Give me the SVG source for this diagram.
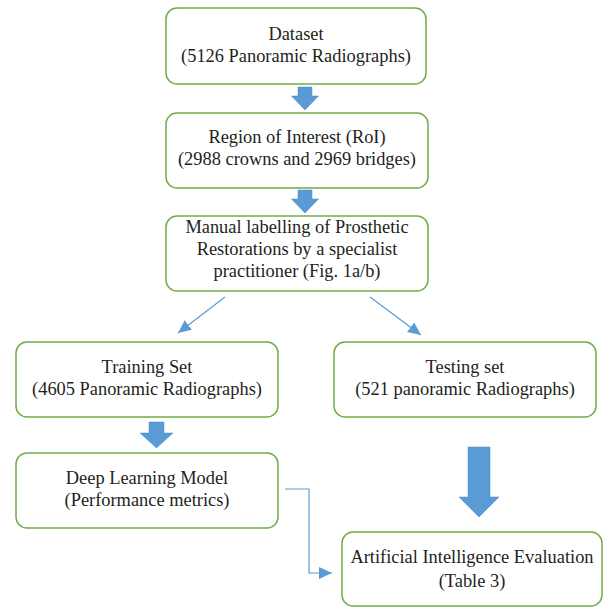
<svg xmlns="http://www.w3.org/2000/svg" width="605" height="607" viewBox="0 0 605 607">
<defs>
<style>
.box{fill:#fff;stroke:#70AD47;stroke-width:1.5}
.t{font-family:"Liberation Serif","Times New Roman",serif;font-size:18.4px;fill:#231F20;text-anchor:middle}
.fat{fill:#5B9BD5;stroke:#4A89C4;stroke-width:0.5}
.thin{fill:none;stroke:#5B9BD5;stroke-width:1.2}
</style>
<marker id="ah" markerUnits="userSpaceOnUse" markerWidth="14" markerHeight="12" refX="13" refY="6" orient="auto">
<path d="M0,0 L13,6 L0,12 z" fill="#5B9BD5"/>
</marker>
</defs>
<rect width="605" height="607" fill="#fff"/>
<g id="dataset">
<rect class="box" x="166" y="8" width="260" height="76" rx="11"/>
<text class="t" x="296" y="40">Dataset</text>
<text class="t" x="296" y="62">(5126 Panoramic Radiographs)</text>
</g>
<g id="roi">
<rect class="box" x="166" y="113" width="262" height="75" rx="11"/>
<text class="t" x="297" y="143">Region of Interest (RoI)</text>
<text class="t" x="297" y="165">(2988 crowns and 2969 bridges)</text>
</g>
<g id="labelling">
<rect class="box" x="166" y="216" width="262" height="75" rx="11"/>
<text class="t" x="297" y="233">Manual labelling of Prosthetic</text>
<text class="t" x="297" y="255">Restorations by a specialist</text>
<text class="t" x="297" y="277">practitioner (Fig. 1a/b)</text>
</g>
<g id="training">
<rect class="box" x="16" y="342" width="262" height="75" rx="11"/>
<text class="t" x="147" y="373">Training Set</text>
<text class="t" x="147" y="395">(4605 Panoramic Radiographs)</text>
</g>
<g id="testing">
<rect class="box" x="334" y="342" width="262" height="75" rx="11"/>
<text class="t" x="465" y="373">Testing set</text>
<text class="t" x="465" y="395">(521 panoramic Radiographs)</text>
</g>
<g id="deeplearning">
<rect class="box" x="16" y="453" width="262" height="75" rx="11"/>
<text class="t" x="147" y="484">Deep Learning Model</text>
<text class="t" x="147" y="506">(Performance metrics)</text>
</g>
<g id="evaluation">
<rect class="box" x="342" y="532" width="260" height="74" rx="11"/>
<text class="t" x="472" y="563">Artificial Intelligence Evaluation</text>
<text class="t" x="472" y="587">(Table 3)</text>
</g>
<g id="connectors">
<polygon class="fat" points="298,87 312,87 312,96 318.5,96 305,110 291.5,96 298,96"/>
<polygon class="fat" points="298,190 312,190 312,199 318.5,199 305,213 291.5,199 298,199"/>
<polygon class="fat" points="149,422 164,422 164,433 173,433 156.5,448 140,433 149,433"/>
<polygon class="fat" points="468,447 490,447 490,497 499,497 479,517 459,497 468,497"/>
<line class="thin" x1="225" y1="297" x2="178" y2="333" marker-end="url(#ah)"/>
<line class="thin" x1="370" y1="297" x2="421" y2="335" marker-end="url(#ah)"/>
<polyline class="thin" points="285,489 309,489 309,573 332,573" marker-end="url(#ah)"/>
</g>
</svg>
